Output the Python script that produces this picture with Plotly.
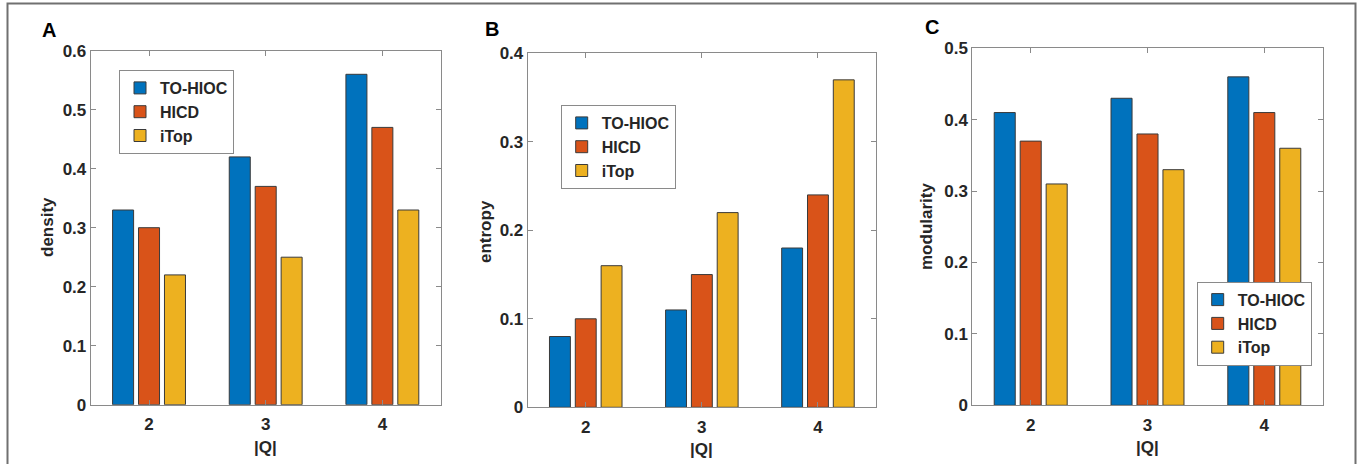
import plotly.graph_objects as go

# ---- data ----
q_values = [2, 3, 4]
series_names = ["TO-HIOC", "HICD", "iTop"]
series_colors = ["#0072BD", "#D95319", "#EDB120"]

density_tohioc = [0.33, 0.42, 0.56]
density_hicd = [0.30, 0.37, 0.47]
density_itop = [0.22, 0.25, 0.33]

entropy_tohioc = [0.08, 0.11, 0.18]
entropy_hicd = [0.10, 0.15, 0.24]
entropy_itop = [0.16, 0.22, 0.37]

modularity_tohioc = [0.41, 0.43, 0.46]
modularity_hicd = [0.37, 0.38, 0.41]
modularity_itop = [0.31, 0.33, 0.36]

density_ticks = [0, 0.1, 0.2, 0.3, 0.4, 0.5, 0.6]
density_ticktext = ["0", "0.1", "0.2", "0.3", "0.4", "0.5", "0.6"]
entropy_ticks = [0, 0.1, 0.2, 0.3, 0.4]
entropy_ticktext = ["0", "0.1", "0.2", "0.3", "0.4"]
modularity_ticks = [0, 0.1, 0.2, 0.3, 0.4, 0.5]
modularity_ticktext = ["0", "0.1", "0.2", "0.3", "0.4", "0.5"]

W, H = 1360, 464
FONT = "Liberation Sans, Arial, Helvetica, sans-serif"
TXT = "#262626"
AXC = "#8a8a8a"

panels = [
    dict(series=[density_tohioc, density_hicd, density_itop], ticks=density_ticks,
         ticktext=density_ticktext, rng=[0, 0.6], ytitle="density", label="A",
         px=(90.7, 440.7), py=(50.7, 404.7), legend=(119, 70),
         ytitle_pos=(47, 227), label_pos=(49, 30)),
    dict(series=[entropy_tohioc, entropy_hicd, entropy_itop], ticks=entropy_ticks,
         ticktext=entropy_ticktext, rng=[0, 0.4], ytitle="entropy", label="B",
         px=(527.7, 876.0), py=(53.3, 407.3), legend=(560.7, 105),
         ytitle_pos=(485, 232), label_pos=(492, 29)),
    dict(series=[modularity_tohioc, modularity_hicd, modularity_itop], ticks=modularity_ticks,
         ticktext=modularity_ticktext, rng=[0, 0.5], ytitle="modularity", label="C",
         px=(972.3, 1322.7), py=(48.3, 405.3), legend=(1196.7, 281.7),
         ytitle_pos=(926, 227), label_pos=(932, 27)),
]

fig = go.Figure()
layout = dict(
    width=W, height=H,
    margin=dict(l=0, r=0, t=0, b=0),
    paper_bgcolor="white", plot_bgcolor="white",
    barmode="group", bargap=0.333, bargroupgap=0.19,
    font=dict(family=FONT, color=TXT),
    template="none",
    annotations=[], shapes=[],
)

for i, p in enumerate(panels):
    suffix = "" if i == 0 else str(i + 1)
    xa, ya = "x" + suffix, "y" + suffix
    leg = "legend" + suffix
    for name, vals, col in zip(series_names, p["series"], series_colors):
        fig.add_trace(go.Bar(
            x=q_values, y=vals, name=name, xaxis=xa, yaxis=ya, legend=leg,
            marker=dict(color=col, line=dict(color="#3a3a3a", width=1)),
        ))
    x0, x1 = p["px"]
    ytop, ybot = p["py"]
    layout["xaxis" + suffix] = dict(
        domain=[x0 / W, x1 / W], anchor=ya, range=[1.5, 4.5],
        tickvals=q_values, ticktext=[str(v) for v in q_values],
        ticks="inside", ticklen=5, tickcolor=AXC, showline=True, linecolor=AXC,
        linewidth=1, mirror="ticks", showgrid=False, zeroline=False,
        tickfont=dict(size=17, weight="bold", color=TXT, family=FONT),
        ticklabelstandoff=4, automargin=False,
    )
    layout["yaxis" + suffix] = dict(
        domain=[1 - ybot / H, 1 - ytop / H], anchor=xa, range=p["rng"],
        tickvals=p["ticks"], ticktext=p["ticktext"],
        ticks="inside", ticklen=5, tickcolor=AXC, showline=True, linecolor=AXC,
        linewidth=1, mirror="ticks", showgrid=False, zeroline=False,
        tickfont=dict(size=17, weight="bold", color=TXT, family=FONT),
        automargin=False,
    )
    lx, ly = p["legend"]
    layout[leg] = dict(
        x=lx / W, y=1 - ly / H, xanchor="left", yanchor="top",
        bgcolor="white", bordercolor="#8a8a8a", borderwidth=1,
        font=dict(size=16, weight="bold", color=TXT, family=FONT),
        itemwidth=30, tracegroupgap=0,
    )
    tx, ty = p["ytitle_pos"]
    layout["annotations"].append(dict(
        text=p["ytitle"], x=tx / W, y=1 - ty / H, xref="paper", yref="paper",
        showarrow=False, textangle=-90, xanchor="center", yanchor="middle",
        font=dict(size=17, weight="bold", color=TXT, family=FONT),
    ))
    layout["annotations"].append(dict(
        text="|Q|", x=((x0 + x1) / 2) / W, y=1 - (ybot + 42.5) / H,
        xref="paper", yref="paper", showarrow=False,
        xanchor="center", yanchor="middle",
        font=dict(size=17, weight="bold", color=TXT, family=FONT),
    ))
    lbx, lby = p["label_pos"]
    layout["annotations"].append(dict(
        text=p["label"], x=lbx / W, y=1 - lby / H, xref="paper", yref="paper",
        showarrow=False, xanchor="center", yanchor="middle",
        font=dict(size=20, weight="bold", color="black", family=FONT),
    ))

layout["shapes"].append(dict(
    type="rect", xref="paper", yref="paper",
    x0=7.5 / W, x1=1355.5 / W, y0=-0.05, y1=1 - 3.5 / H,
    line=dict(color="#707070", width=2), fillcolor="rgba(0,0,0,0)", layer="above",
))

fig.update_layout(**layout)
fig.write_html(
    "out.html",
    config={"displayModeBar": False},
    post_script="document.body.style.margin='0';document.body.style.overflow='hidden';",
)
